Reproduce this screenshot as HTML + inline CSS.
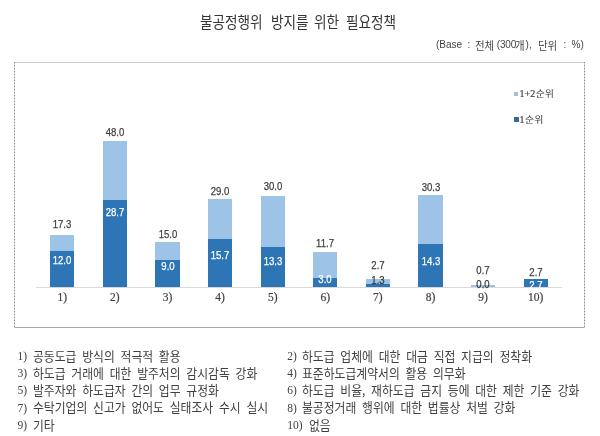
<!DOCTYPE html>
<html><head><meta charset="utf-8"><style>
html,body{margin:0;padding:0;background:#fff}
#c{position:relative;width:600px;height:436px;overflow:hidden;background:#fff;font-family:"Liberation Sans","Noto Sans CJK KR",sans-serif}
#c div{position:absolute;white-space:nowrap;line-height:1}
.t{filter:grayscale(1)}
.title{top:14.0px;font-size:15.4px;color:#333;transform:scaleX(0.885);transform-origin:0 0;word-spacing:5.3px;font-family:"Noto Sans CJK KR",sans-serif}
.sl{font-size:10px;color:#444;font-family:"Liberation Sans",sans-serif;top:39.6px}
.sk{font-size:11px;color:#444;font-family:"Noto Sans CJK KR",sans-serif;top:39.6px;transform:scaleX(0.95);transform-origin:0 0}
.frame-t{left:14px;top:62px;width:571px;height:1px;background:#cacaca}
.frame-b{left:14px;top:327px;width:571px;height:1px;background:#a8a8a8}
.frame-l,.frame-r{top:62px;width:1px;height:266px;background:repeating-linear-gradient(to bottom,#8c8c8c 0 1px,#d0d0d0 1px 3px)}
.frame-l{left:14px} .frame-r{left:584px}
.axis{left:36px;top:287px;width:526px;height:1px;background:#d9d9d9}
.b{width:24.4px}
.l{background:#9dc3e6}
.d{background:#2e75b6}
.v{width:40px;text-align:center;-webkit-text-stroke:0.25px currentColor;font-size:11px;color:#404040;font-family:"Liberation Sans",sans-serif;transform:scaleX(0.87)}
.v.w{color:#fff}
.v.dk{color:#1f3550}
.ax{width:40px;text-align:center;-webkit-text-stroke:0.2px currentColor;font-size:11.5px;color:#404040;font-family:"Liberation Serif",serif}
.lg{font-size:10px;color:#404040;font-family:"Liberation Serif","Noto Sans CJK KR",serif}
.mk{width:4px;height:4px}
.hk{-webkit-text-stroke:0;display:inline-block;transform:scaleY(0.87);transform-origin:50% 85%;margin-left:0.5px}
.lg{-webkit-text-stroke:0.2px currentColor}
.bn{font-size:11.5px;color:#404040;font-family:"Liberation Serif",serif}
.bt{font-size:13px;color:#404040;font-family:"Noto Sans CJK KR",sans-serif;transform:scaleX(0.908);transform-origin:0 0;word-spacing:3.43px}
</style></head><body><div id="c">
<div class="t title" style="left:200.4px">불공정행위</div>
<div class="t title" style="left:270.9px">방지를</div>
<div class="t title" style="left:314.0px">위한</div>
<div class="t title" style="left:346.4px">필요정책</div>
<div class="t sl" style="left:436px">(Base</div>
<div class="t sl" style="left:467.5px">:</div>
<div class="t sk" style="left:474.8px">전체</div>
<div class="t sl" style="left:496.8px;letter-spacing:-0.2px">(300</div>
<div class="t sk" style="left:515.2px">개</div>
<div class="t sl" style="left:525.6px">),</div>
<div class="t sk" style="left:537.8px">단위</div>
<div class="t sl" style="left:563.5px">:</div>
<div class="t sl" style="left:571.5px">%)</div>
<div class="frame-t"></div><div class="frame-b"></div><div class="frame-l"></div><div class="frame-r"></div>
<div class="b l" style="left:50.10px;top:234.56px;height:52.94px"></div>
<div class="b d" style="left:50.10px;top:250.78px;height:36.72px"></div>
<div class="b l" style="left:102.70px;top:140.62px;height:146.88px"></div>
<div class="b d" style="left:102.70px;top:199.68px;height:87.82px"></div>
<div class="b l" style="left:155.30px;top:241.60px;height:45.90px"></div>
<div class="b d" style="left:155.30px;top:259.96px;height:27.54px"></div>
<div class="b l" style="left:207.90px;top:198.76px;height:88.74px"></div>
<div class="b d" style="left:207.90px;top:239.46px;height:48.04px"></div>
<div class="b l" style="left:260.50px;top:195.70px;height:91.80px"></div>
<div class="b d" style="left:260.50px;top:246.80px;height:40.70px"></div>
<div class="b l" style="left:313.10px;top:251.70px;height:35.80px"></div>
<div class="b d" style="left:313.10px;top:278.32px;height:9.18px"></div>
<div class="b l" style="left:365.70px;top:279.24px;height:8.26px"></div>
<div class="b d" style="left:365.70px;top:283.52px;height:3.98px"></div>
<div class="b l" style="left:418.30px;top:194.78px;height:92.72px"></div>
<div class="b d" style="left:418.30px;top:243.74px;height:43.76px"></div>
<div class="b l" style="left:470.90px;top:285.36px;height:2.14px"></div>
<div class="b l" style="left:523.50px;top:279.24px;height:8.26px"></div>
<div class="b d" style="left:523.50px;top:279.24px;height:8.26px"></div>
<div class="axis"></div>
<div class="t">
<div class="v" style="left:42.30px;top:219.40px">17.3</div>
<div class="v w" style="left:42.30px;top:254.60px">12.0</div>
<div class="v" style="left:94.90px;top:127.30px">48.0</div>
<div class="v w" style="left:94.90px;top:207.00px">28.7</div>
<div class="v" style="left:147.50px;top:228.70px">15.0</div>
<div class="v w" style="left:147.50px;top:261.10px">9.0</div>
<div class="v" style="left:200.10px;top:185.90px">29.0</div>
<div class="v w" style="left:200.10px;top:249.60px">15.7</div>
<div class="v" style="left:252.70px;top:180.60px">30.0</div>
<div class="v w" style="left:252.70px;top:255.60px">13.3</div>
<div class="v" style="left:305.30px;top:237.60px">11.7</div>
<div class="v w" style="left:305.30px;top:273.60px">3.0</div>
<div class="v" style="left:357.90px;top:259.50px">2.7</div>
<div class="v dk" style="left:357.90px;top:274.50px">1.3</div>
<div class="v" style="left:410.50px;top:182.20px">30.3</div>
<div class="v w" style="left:410.50px;top:255.90px">14.3</div>
<div class="v" style="left:463.10px;top:265.10px">0.7</div>
<div class="v dk" style="left:463.10px;top:279.10px">0.0</div>
<div class="v" style="left:515.70px;top:267.10px">2.7</div>
<div class="v w" style="left:515.70px;top:279.70px">2.7</div>
<div class="ax" style="left:42.30px;top:291.70px">1)</div>
<div class="ax" style="left:94.90px;top:291.70px">2)</div>
<div class="ax" style="left:147.50px;top:291.70px">3)</div>
<div class="ax" style="left:200.10px;top:291.70px">4)</div>
<div class="ax" style="left:252.70px;top:291.70px">5)</div>
<div class="ax" style="left:305.30px;top:291.70px">6)</div>
<div class="ax" style="left:357.90px;top:291.70px">7)</div>
<div class="ax" style="left:410.50px;top:291.70px">8)</div>
<div class="ax" style="left:463.10px;top:291.70px">9)</div>
<div class="ax" style="left:515.70px;top:291.70px">10)</div>
</div>
<div class="mk" style="left:514px;top:92px;background:#a3bfdc"></div>
<div class="t lg" style="left:519.5px;top:88.8px">1+2<span class="hk">순위</span></div>
<div class="mk" style="left:514px;top:117px;width:4.5px;height:4.5px;background:#3a6796"></div>
<div class="t lg" style="left:519.5px;top:114.5px">1<span class="hk">순위</span></div>
<div class="t">
<div class="bn" style="left:17.5px;top:350.90px">1)</div>
<div class="bt" style="left:32.8px;top:348.80px">공동도급 방식의 적극적 활용</div>
<div class="bn" style="left:17.5px;top:368.10px">3)</div>
<div class="bt" style="left:32.8px;top:366.00px">하도급 거래에 대한 발주처의 감시감독 강화</div>
<div class="bn" style="left:17.5px;top:385.30px">5)</div>
<div class="bt" style="left:32.8px;top:383.20px">발주자와 하도급자 간의 업무 규정화</div>
<div class="bn" style="left:17.5px;top:402.50px">7)</div>
<div class="bt" style="left:32.8px;top:400.40px">수탁기업의 신고가 없어도 실태조사 수시 실시</div>
<div class="bn" style="left:17.5px;top:419.70px">9)</div>
<div class="bt" style="left:32.8px;top:417.60px">기타</div>
<div class="bn" style="left:287.3px;top:350.90px">2)</div>
<div class="bt" style="left:302.3px;top:348.80px">하도급 업체에 대한 대금 직접 지급의 정착화</div>
<div class="bn" style="left:287.3px;top:368.10px">4)</div>
<div class="bt" style="left:302.3px;top:366.00px">표준하도급계약서의 활용 의무화</div>
<div class="bn" style="left:287.3px;top:385.30px">6)</div>
<div class="bt" style="left:302.3px;top:383.20px">하도급 비율, 재하도급 금지 등에 대한 제한 기준 강화</div>
<div class="bn" style="left:287.3px;top:402.50px">8)</div>
<div class="bt" style="left:302.3px;top:400.40px">불공정거래 행위에 대한 법률상 처벌 강화</div>
<div class="bn" style="left:287.3px;top:419.70px">10)</div>
<div class="bt" style="left:308.8px;top:417.60px">없음</div>
</div>
</div></body></html>
